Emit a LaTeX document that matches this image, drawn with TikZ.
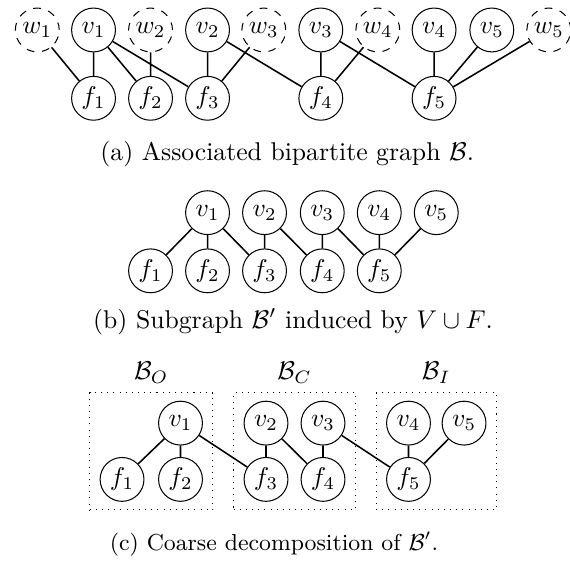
\documentclass[tikz,border=0pt]{standalone}
\usepackage{amsmath,amssymb}
\usetikzlibrary{fit}

\begin{document}
\begin{tikzpicture}[
  vtx/.style={circle, draw, minimum size=0.6cm, inner sep=0pt},
  aux/.style={vtx, dashed},
  edge/.style={semithick},
  part/.style={draw, dotted, inner xsep=3.9pt, inner ysep=3.1pt},
  subcap/.style={anchor=base}]
\useasboundingbox (0,0) rectangle (7.80,-7.67);
% (a) bipartite graph with the w's
\node[aux] (aw1) at (0.51,-0.41) {$w_1$};
\node[vtx] (av1) at (1.28,-0.41) {$v_1$};
\node[aux] (aw2) at (2.06,-0.41) {$w_2$};
\node[vtx] (av2) at (2.84,-0.41) {$v_2$};
\node[aux] (aw3) at (3.61,-0.41) {$w_3$};
\node[vtx] (av3) at (4.39,-0.41) {$v_3$};
\node[aux] (aw4) at (5.17,-0.41) {$w_4$};
\node[vtx] (av4) at (5.94,-0.41) {$v_4$};
\node[vtx] (av5) at (6.73,-0.41) {$v_5$};
\node[aux] (aw5) at (7.51,-0.41) {$w_5$};
\node[vtx] (af1) at (1.28,-1.345) {$f_1$};
\node[vtx] (af2) at (2.06,-1.345) {$f_2$};
\node[vtx] (af3) at (2.84,-1.345) {$f_3$};
\node[vtx] (af4) at (4.39,-1.345) {$f_4$};
\node[vtx] (af5) at (5.94,-1.345) {$f_5$};
\draw[edge] (aw1) -- (af1) (av1) -- (af1) (av1) -- (af2) (av1) -- (af3)
            (aw2) -- (af2) (av2) -- (af3) (aw3) -- (af3) (av2) -- (af4)
            (av3) -- (af4) (aw4) -- (af4) (av3) -- (af5) (av4) -- (af5)
            (av5) -- (af5) (aw5) -- (af5);
\node[subcap] (capa) at (3.93,-2.196) {(a) Associated bipartite graph $\mathcal{B}$.};
% (b) induced subgraph
\node[vtx] (bv1) at (2.84,-2.91) {$v_1$};
\node[vtx] (bv2) at (3.62,-2.91) {$v_2$};
\node[vtx] (bv3) at (4.41,-2.91) {$v_3$};
\node[vtx] (bv4) at (5.19,-2.91) {$v_4$};
\node[vtx] (bv5) at (5.97,-2.91) {$v_5$};
\node[vtx] (bf1) at (2.06,-3.706) {$f_1$};
\node[vtx] (bf2) at (2.84,-3.706) {$f_2$};
\node[vtx] (bf3) at (3.62,-3.706) {$f_3$};
\node[vtx] (bf4) at (4.41,-3.706) {$f_4$};
\node[vtx] (bf5) at (5.19,-3.706) {$f_5$};
\draw[edge] (bv1) -- (bf1) (bv1) -- (bf2) (bv1) -- (bf3) (bv2) -- (bf3)
            (bv2) -- (bf4) (bv3) -- (bf4) (bv3) -- (bf5) (bv4) -- (bf5)
            (bv5) -- (bf5);
\node[subcap] (capb) at (4.01,-4.49) {(b) Subgraph $\mathcal{B}'$ induced by $V \cup F$.};
% (c) coarse decomposition
\node[vtx] (cv1) at (2.47,-5.79) {$v_1$};
\node[vtx] (cv2) at (3.64,-5.79) {$v_2$};
\node[vtx] (cv3) at (4.42,-5.79) {$v_3$};
\node[vtx] (cv4) at (5.59,-5.79) {$v_4$};
\node[vtx] (cv5) at (6.35,-5.79) {$v_5$};
\node[vtx] (cf1) at (1.67,-6.56) {$f_1$};
\node[vtx] (cf2) at (2.47,-6.56) {$f_2$};
\node[vtx] (cf3) at (3.64,-6.56) {$f_3$};
\node[vtx] (cf4) at (4.42,-6.56) {$f_4$};
\node[vtx] (cf5) at (5.59,-6.56) {$f_5$};
\draw[edge] (cv1) -- (cf1) (cv1) -- (cf2) (cv1) -- (cf3) (cv2) -- (cf3)
            (cv2) -- (cf4) (cv3) -- (cf4) (cv3) -- (cf5) (cv4) -- (cf5)
            (cv5) -- (cf5);
\node[part, fit=(cf1)(cv1)(cf2), label=above:$\mathcal{B}_O$] (BO) {};
\node[part, fit=(cv2)(cv3)(cf3)(cf4), label=above:$\mathcal{B}_C$] (BC) {};
\node[part, fit=(cv4)(cv5)(cf5), label=above:$\mathcal{B}_I$] (BI) {};
\node[subcap, font=\small] (capc) at (3.75,-7.535) {(c) Coarse decomposition of $\mathcal{B}'$.};
\end{tikzpicture}
\end{document}
